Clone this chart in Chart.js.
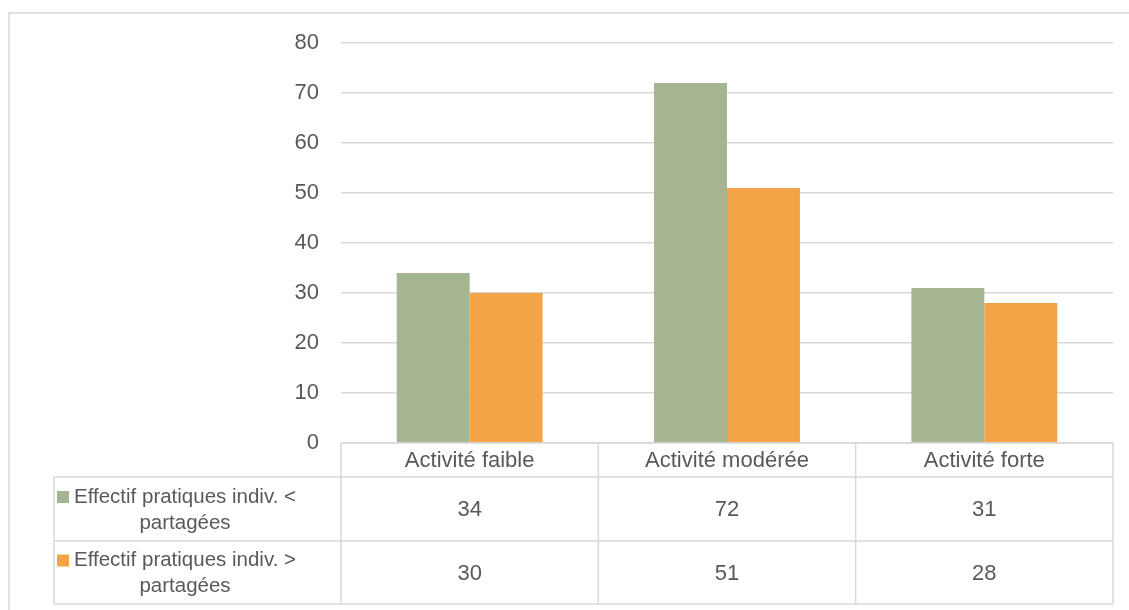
<!DOCTYPE html>
<html>
<head>
<meta charset="utf-8">
<script src="https://cdn.jsdelivr.net/npm/chart.js@4"></script>
<style>
  body { margin: 0; background: #fff; }
  canvas { display: block; }
</style>
</head>
<body>
<canvas id="chart" width="1129" height="610"></canvas>
<script>
const categories = ['Activité faible', 'Activité modérée', 'Activité forte'];
const seriesNames = ['Effectif pratiques indiv. < partagées', 'Effectif pratiques indiv. > partagées'];
const lessShared = [34, 72, 31];
const moreShared = [30, 51, 28];
const yTicks = [0, 10, 20, 30, 40, 50, 60, 70, 80];

const colors = ['#a5b592', '#f3a447'];
const textColor = '#595959';
const lineColor = '#d9d9d9';
const fontFamily = '"Liberation Sans", Arial, sans-serif';

// wrap a label into lines that fit maxWidth
function wrap(ctx, text, maxWidth) {
    const words = text.split(' ');
    const lines = [];
    let cur = '';
    words.forEach(w => {
        const test = cur ? cur + ' ' + w : w;
        if (ctx.measureText(test).width > maxWidth && cur) {
            lines.push(cur);
            cur = w;
        } else {
            cur = test;
        }
    });
    if (cur) lines.push(cur);
    return lines;
}

// draws the outer frame and the data table under the plot
const dataTable = {
    id: 'dataTable',
    afterDraw(chart) {
        const ctx = chart.ctx;
        const area = chart.chartArea;
        const x = chart.scales.x;
        const catW = (area.right - area.left) / categories.length;
        const legendLeft = 54;
        const top = area.bottom;
        const rowTops = [top, top + 34, top + 98, top + 161];
        const series = [lessShared, moreShared];

        ctx.save();
        ctx.strokeStyle = lineColor;
        ctx.lineWidth = 1.5;

        // outer frame (top and left edges visible)
        ctx.beginPath();
        ctx.moveTo(9, 620);
        ctx.lineTo(9, 13);
        ctx.lineTo(1140, 13);
        ctx.stroke();

        ctx.beginPath();
        // horizontal lines
        ctx.moveTo(area.left, rowTops[0]);
        ctx.lineTo(area.right, rowTops[0]);
        for (let r = 1; r < rowTops.length; r++) {
            ctx.moveTo(legendLeft, rowTops[r]);
            ctx.lineTo(area.right, rowTops[r]);
        }
        // vertical lines
        for (let i = 0; i <= categories.length; i++) {
            const cx = area.left + i * catW;
            ctx.moveTo(cx, rowTops[0]);
            ctx.lineTo(cx, rowTops[3]);
        }
        ctx.moveTo(legendLeft, rowTops[1]);
        ctx.lineTo(legendLeft, rowTops[3]);
        ctx.stroke();

        ctx.fillStyle = textColor;
        ctx.font = '22px ' + fontFamily;
        ctx.textAlign = 'center';
        ctx.textBaseline = 'middle';

        categories.forEach((c, i) => {
            const cx = x.getPixelForValue(i);
            ctx.fillText(c, cx, (rowTops[0] + rowTops[1]) / 2 + 1);
            series.forEach((vals, s) => {
                ctx.fillText(String(vals[i]), cx, (rowTops[s + 1] + rowTops[s + 2]) / 2 + 1);
            });
        });

        ctx.font = '20.5px ' + fontFamily;
        seriesNames.forEach((name, s) => {
            const lines = wrap(ctx, name, 228);
            const mid = (rowTops[s + 1] + rowTops[s + 2]) / 2 + 1;
            const lh = 26;
            const textX = legendLeft + 131;
            lines.forEach((ln, k) => {
                const ly = mid + (k - (lines.length - 1) / 2) * lh;
                ctx.fillStyle = textColor;
                ctx.fillText(ln, textX, ly);
                if (k === 0) {
                    const w = ctx.measureText(ln).width;
                    ctx.fillStyle = colors[s];
                    ctx.fillRect(textX - w / 2 - 17, ly - 6, 12, 12);
                }
            });
        });
        ctx.restore();
    }
};

new Chart(document.getElementById('chart'), {
    type: 'bar',
    data: {
        labels: categories,
        datasets: [
            { label: seriesNames[0], data: lessShared, backgroundColor: colors[0] },
            { label: seriesNames[1], data: moreShared, backgroundColor: colors[1] }
        ]
    },
    options: {
        responsive: false,
        animation: false,
        layout: { padding: { top: 43, right: 16, bottom: 167, left: 0 } },
        datasets: { bar: { categoryPercentage: 0.567, barPercentage: 1 } },
        plugins: { legend: { display: false }, tooltip: { enabled: false } },
        scales: {
            x: { display: false },
            y: {
                min: 0,
                max: 80,
                afterFit(scale) { scale.width = 341; },
                afterBuildTicks(scale) { scale.ticks = yTicks.map(v => ({ value: v })); },
                border: { display: false },
                grid: { color: lineColor, lineWidth: 1.5, drawTicks: false },
                ticks: {
                    padding: 22,
                    color: textColor,
                    font: { family: fontFamily, size: 22 }
                }
            }
        }
    },
    plugins: [dataTable]
});
</script>
</body>
</html>
